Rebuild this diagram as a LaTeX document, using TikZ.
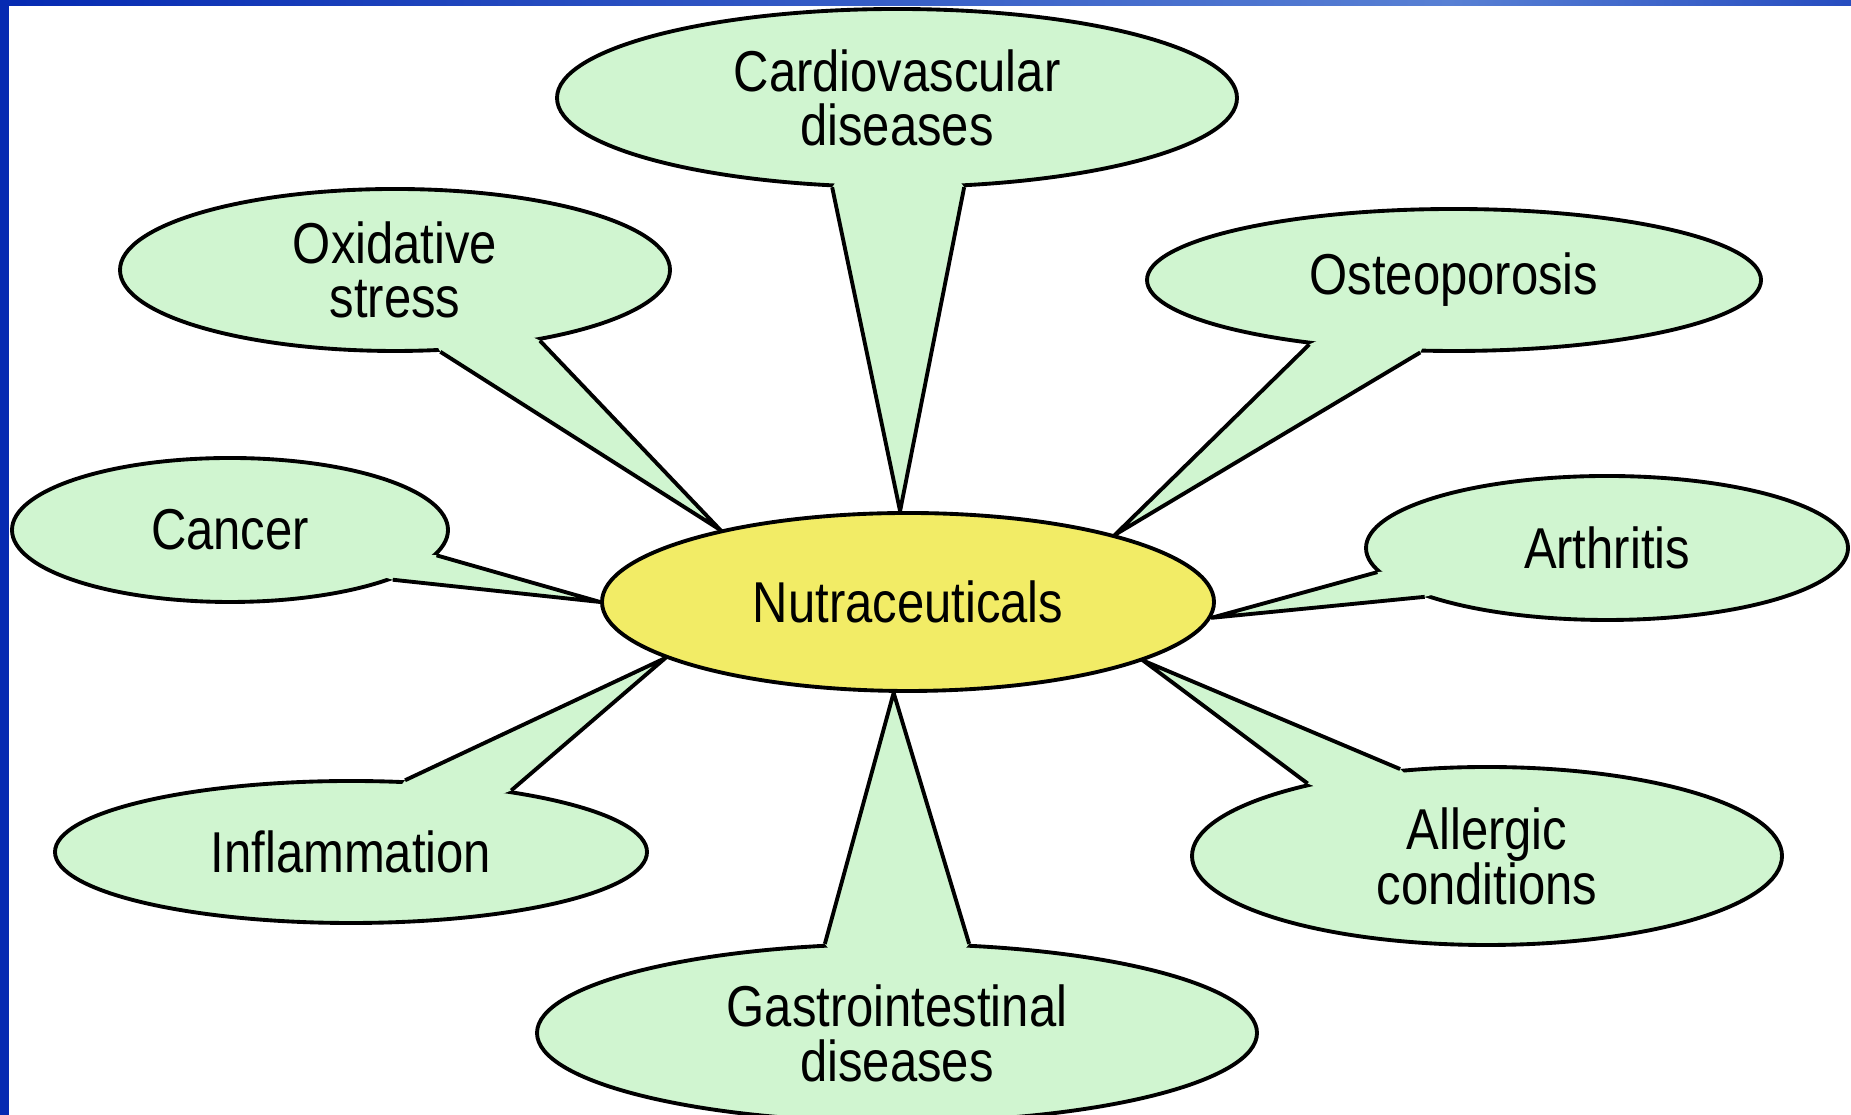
\documentclass[tikz,border=0pt]{standalone}
\usepackage{fontspec}
\setmainfont[FakeStretch=0.85]{Liberation Sans}
\usetikzlibrary{shapes.geometric,calc}

\definecolor{bubblegreen}{RGB}{208,245,208}
\definecolor{hubyellow}{RGB}{242,236,102}
\definecolor{framedark}{RGB}{5,42,178}
\definecolor{framelight}{RGB}{88,128,212}

\pgfdeclarelayer{bubbles}
\pgfdeclarelayer{tails}
\pgfsetlayers{bubbles,tails,main}

\tikzset{
  bubble/.style={ellipse, draw=black, line width=1.1pt, fill=bubblegreen,
    inner sep=0pt, align=center, font=\fontsize{16.4}{15.6}\selectfont},
  hub/.style={bubble, fill=hubyellow},
  tailfill/.style={fill=bubblegreen},
  tailside/.style={draw=black, line width=1.1pt, line join=miter}
}

\begin{document}
\begin{tikzpicture}
    \useasboundingbox (0,0) rectangle (18.51,11.15);

    % centre
    \node[hub, minimum width=6.12cm, minimum height=1.78cm] (nut) at (9.08,5.13) {Nutraceuticals};

    % outer bubbles
    \begin{pgfonlayer}{bubbles}
    \fill[white] (0,0) rectangle (18.51,11.15);
    \node[bubble, minimum width=6.80cm, minimum height=1.78cm] (cardio) at (8.97,10.17) {Cardiovascular\\diseases};
    \node[bubble, minimum width=5.50cm, minimum height=1.62cm] (oxid) at (3.95,8.45) {Oxidative\\stress};
    \node[bubble, minimum width=6.14cm, minimum height=1.42cm] (osteo) at (14.54,8.35) {Osteoporosis};
    \node[bubble, minimum width=4.36cm, minimum height=1.44cm] (cancer) at (2.30,5.85) {Cancer};
    \node[bubble, minimum width=4.82cm, minimum height=1.44cm] (arthr) at (16.07,5.67) {Arthritis};
    \node[bubble, minimum width=5.92cm, minimum height=1.42cm] (infl) at (3.51,2.63) {Inflammation};
    \node[bubble, minimum width=5.90cm, minimum height=1.78cm] (allerg) at (14.87,2.59) {Allergic\\conditions};
    \node[bubble, minimum width=7.20cm, minimum height=1.78cm] (gastro) at (8.97,0.82) {Gastrointestinal\\diseases};
    \end{pgfonlayer}

    % tails from each bubble to the centre
    \begin{pgfonlayer}{tails}
    \foreach \b/\p/\q/\t in {cardio/-126/-53/95, oxid/-61/-26/159, osteo/-156/-115/18,
        cancer/-7/-17/180, arthr/-174/-165/-3, infl/53/21/-167,
        allerg/158/135/-14, gastro/129/51/-99} {
        \fill[tailfill] (\b.\p) -- (nut.\t) -- (\b.\q)
            -- ($(\b.\q)!4pt!(\b.center)$) -- ($(\b.\p)!4pt!(\b.center)$) -- cycle;
        \draw[tailside] (\b.\p) -- (nut.\t) -- (\b.\q);
    }
    \end{pgfonlayer}

    % frame
    \fill[framedark] (0,0) rectangle (0.09,11.15);
    \shade[left color=framedark, right color=framelight] (0,11.09) rectangle (14.5,11.15);
    \shade[left color=framelight, right color=framedark!60!framelight] (14.5,11.09) rectangle (18.51,11.15);
\end{tikzpicture}
\end{document}
